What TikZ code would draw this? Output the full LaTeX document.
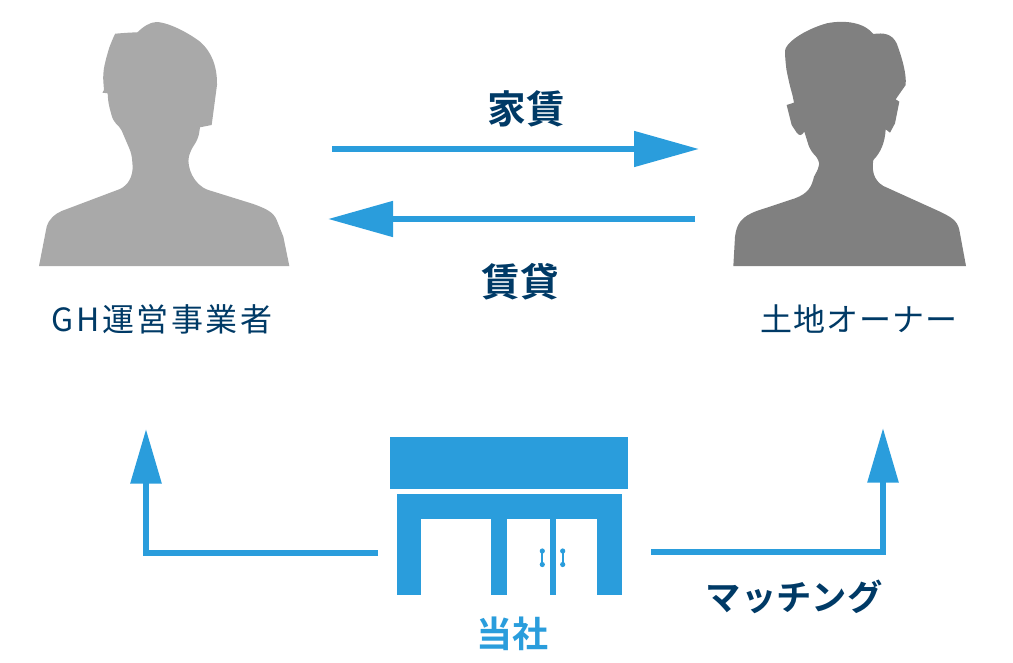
\documentclass[tikz,border=0pt]{standalone}
\usepackage{fontspec}
\setmainfont{Noto Sans CJK JP}
\newfontfamily\jpbold[BoldFont={Noto Sans CJK JP Bold}]{Noto Sans CJK JP}
\newfontfamily\jplabel[LetterSpace=8]{Noto Sans CJK JP}
\newfontfamily\jpowner[LetterSpace=3]{Noto Sans CJK JP}
\usetikzlibrary{arrows.meta, positioning}
\definecolor{shopblue}{HTML}{2A9DDC}
\definecolor{navytext}{HTML}{003A66}
\definecolor{lightperson}{HTML}{A9A9A9}
\definecolor{darkperson}{HTML}{808080}

\begin{document}
\begin{tikzpicture}[
        x=0.75pt, y=-0.75pt,
        link/.style={draw=shopblue, line width=4.5pt},
        longlink/.style={link, -{Triangle[length=48.75pt,width=26pt]}},
        uplink/.style={link, -{Triangle[length=41pt,width=22.5pt]}},
        partlabel/.style={text=navytext, inner sep=0pt},
        boldlabel/.style={text=navytext, inner sep=0pt, font=\jpbold\bfseries\fontsize{29pt}{32pt}\selectfont},
        shopfill/.style={fill=shopblue, draw=none},
        glassfill/.style={fill=white, draw=none}
      ]
      \useasboundingbox (0,0) rectangle (1013,663);

      % left person
      \begin{scope}[shift={(20,10)}, x=0.25pt, y=-0.25pt]
        \fill[lightperson] (57,768) -- (80,650) .. controls (88,625) and (105,612) .. (125,603)
          -- (300,537) .. controls (325,525) and (338,500) .. (338,470)
          [rounded corners=4pt] -- (335,432) -- (300,350)
          -- (280,335) -- (265,280) [sharp corners] -- (263,250) -- (247,248) -- (252,240)
          [rounded corners=6pt] -- (248,190) -- (262,130)
          -- (275,92) [sharp corners] .. controls (285,72) and (310,68) .. (352,67)
          .. controls (370,50) and (390,36) .. (410,36) .. controls (450,38) and (510,72) .. (540,95)
          .. controls (575,125) and (592,170) .. (591,225) -- (585,270) -- (575,345) -- (540,352)
          [rounded corners=4pt] -- (535,385) -- (510,425) [sharp corners] .. controls (500,470) and (520,525) .. (565,540)
          -- (700,582) .. controls (735,595) and (760,605) .. (770,630) -- (790,680) -- (808,768) -- cycle;
      \end{scope}

      % right person
      \begin{scope}[shift={(720,10)}, x=0.25pt, y=-0.25pt]
        \fill[darkperson] (40,768) -- (45,680) .. controls (50,640) and (65,620) .. (110,603)
          -- (225,565) .. controls (265,550) and (275,530) .. (282,500)
          [rounded corners=4pt] -- (298,470) -- (298,450)
          -- (270,420) [sharp corners] -- (253,365) .. controls (245,378) and (238,378) .. (230,368) -- (215,345)
          -- (200,285) -- (222,278) -- (218,258) [rounded corners=8pt] -- (205,210) -- (195,155) [sharp corners]
          .. controls (195,100) and (250,60) .. (320,40) .. controls (380,28) and (435,40) .. (460,72)
          .. controls (490,68) and (515,70) .. (530,100) .. controls (545,140) and (560,190) .. (557,225)
          -- (527,268) -- (538,275) -- (525,340) -- (510,368) -- (497,358)
          .. controls (495,400) and (480,430) .. (460,450)
          .. controls (455,480) and (460,510) .. (490,528)
          -- (660,605) .. controls (690,620) and (712,630) .. (718,660) -- (738,768) -- cycle;
      \end{scope}

      \node[partlabel, font=\jplabel\fontsize{24pt}{27pt}\selectfont] (operator) at (162,319) {GH運営事業者};
      \node[partlabel, font=\jpowner\fontsize{24pt}{27pt}\selectfont] (owner) at (859,319) {土地オーナー};

      % rent and lease
      \coordinate (rentstart) at (332,149);
      \coordinate (rentend) at (699,149);
      \coordinate (leasestart) at (695,219);
      \coordinate (leaseend) at (328,219);
      \draw[longlink] (rentstart) -- (rentend);
      \draw[longlink] (leasestart) -- (leaseend);
      \node[boldlabel] (rent) at (526,109) {家賃};
      \node[boldlabel] (lease) at (520,282) {賃貸};

      % shop
      \fill[shopfill] (390,437) rectangle (628,489);
      \fill[shopfill] (397,494) rectangle (622,595);
      \fill[glassfill] (421,519) rectangle (491,595);
      \fill[glassfill] (507,519) rectangle (597,595);
      \fill[shopfill] (550,519) rectangle (555.5,595);
      \foreach \handlex in {542.3,562.7} {
        \draw[shopblue, line width=1.4pt] (\handlex,551) -- (\handlex,564.5);
        \fill[shopblue] (\handlex,551) circle (2.6);
        \fill[shopblue] (\handlex,564.5) circle (2.6);
      }
      \node[inner sep=0pt, text=shopblue, font=\jpbold\bfseries\fontsize{27pt}{30pt}\selectfont] (shop) at (512,634) {当社};

      % matching
      \coordinate (shopleft) at (378,553);
      \coordinate (shopright) at (651,551.5);
      \coordinate (operatorend) at (146,429);
      \coordinate (ownerend) at (883,428);
      \draw[uplink] (shopleft) -| (operatorend);
      \draw[uplink] (shopright) -| (ownerend);
      \node[boldlabel, font=\jpbold\bfseries\fontsize{26.5pt}{30pt}\selectfont] (matching) at (794,597) {マッチング};
      \end{tikzpicture}
\end{document}
